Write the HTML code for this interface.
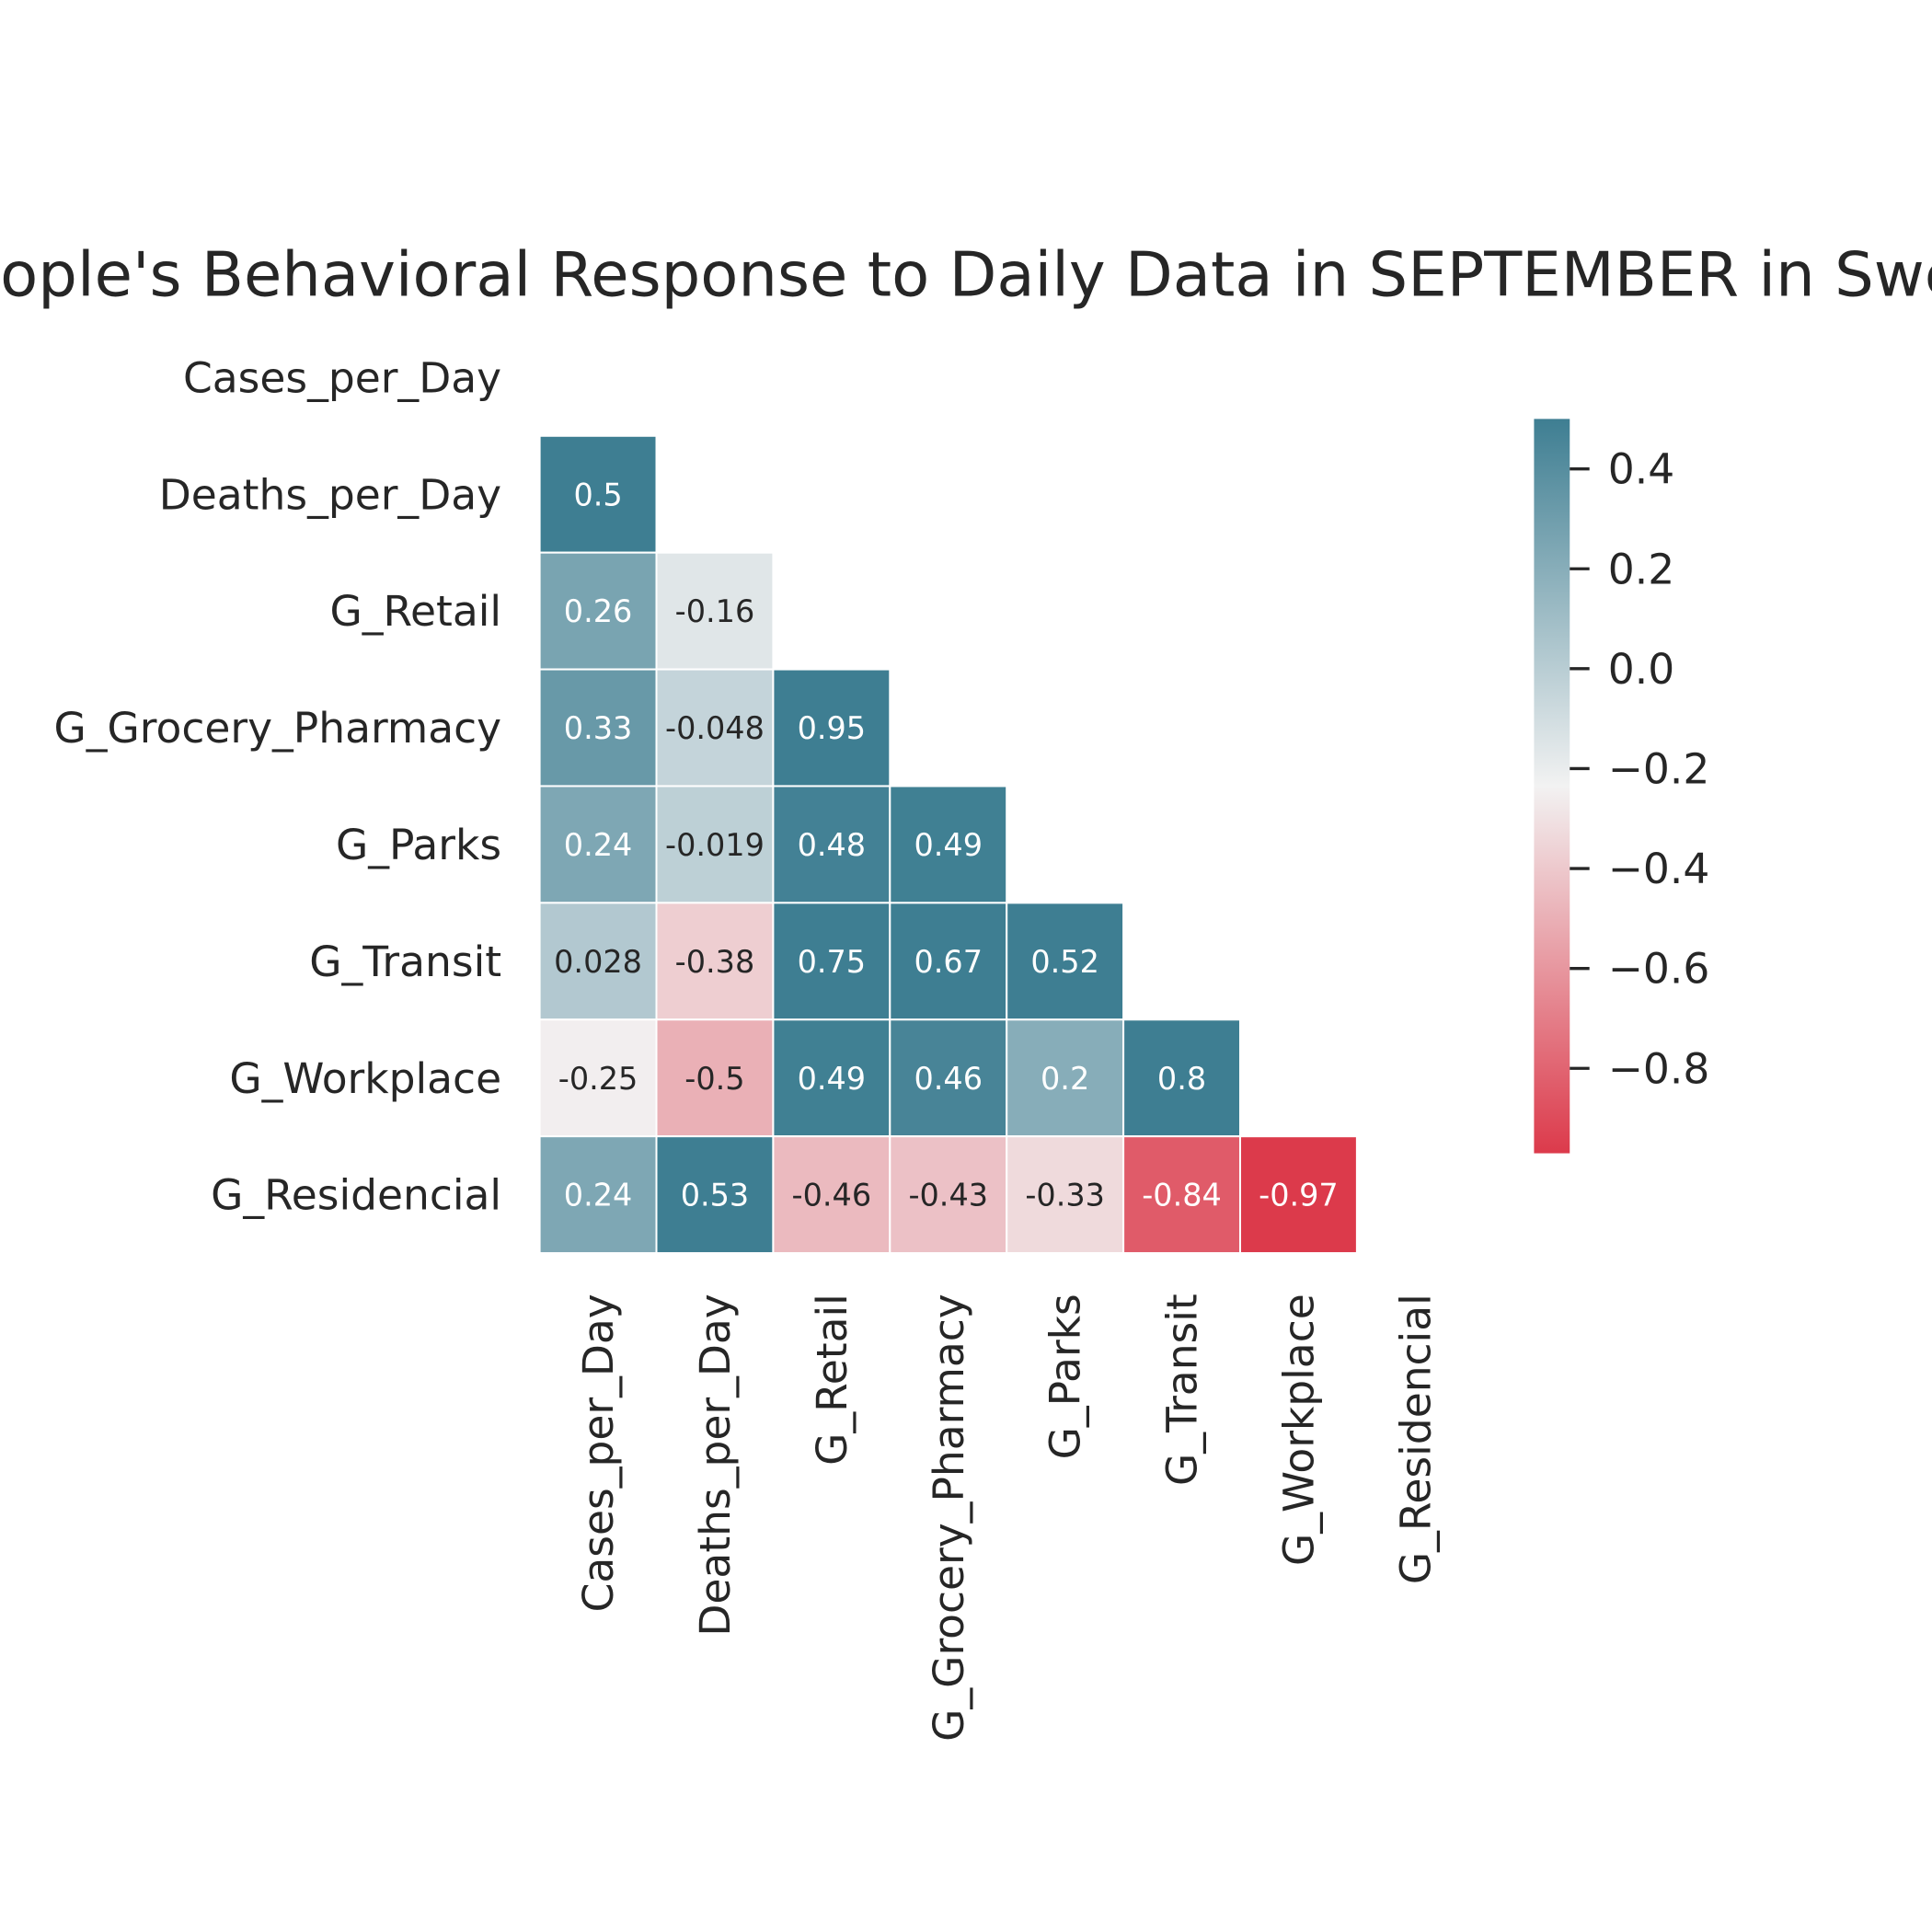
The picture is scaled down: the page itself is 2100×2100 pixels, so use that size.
<!DOCTYPE html>
<html><head><meta charset="utf-8"><style>
html,body{margin:0;padding:0;background:#fff;}
svg{display:block;font-family:"DejaVu Sans","Liberation Sans",sans-serif;}
</style></head><body>
<svg id="chart" width="2100" height="2100" viewBox="0 0 1568 1568" xmlns="http://www.w3.org/2000/svg">
<defs>
<linearGradient id="cbgrad" x1="0" y1="1" x2="0" y2="0">
<stop offset="0" stop-color="#dc3a4b"/>
<stop offset="0.5" stop-color="#f2f2f2"/>
<stop offset="1" stop-color="#3e7e92"/>
</linearGradient>
</defs>
<text x="814" y="240" font-size="50.2" fill="#262626" text-anchor="middle">People's Behavioral Response to Daily Data in SEPTEMBER in Sweden</text>
<g id="cells"></g>
<g id="ylabels"></g>
<g id="xlabels"></g>
<g id="colorbar">
<rect x="1245" y="340" width="29" height="596" fill="url(#cbgrad)"/>
</g>
</svg>
<script>
const labels = ["Cases_per_Day","Deaths_per_Day","G_Retail","G_Grocery_Pharmacy","G_Parks","G_Transit","G_Workplace","G_Residencial"];
const rowDeaths = [0.5];
const rowRetail = [0.26,-0.16];
const rowGrocery = [0.33,-0.048,0.95];
const rowParks = [0.24,-0.019,0.48,0.49];
const rowTransit = [0.028,-0.38,0.75,0.67,0.52];
const rowWorkplace = [-0.25,-0.5,0.49,0.46,0.2,0.8];
const rowResidencial = [0.24,0.53,-0.46,-0.43,-0.33,-0.84,-0.97];
const rows = [[],rowDeaths,rowRetail,rowGrocery,rowParks,rowTransit,rowWorkplace,rowResidencial];
const cbTicks = [0.4,0.2,0.0,-0.2,-0.4,-0.6,-0.8];
const vmin = -0.97, vmax = 0.5;

const NS = "http://www.w3.org/2000/svg";
const gx0 = 438, gy0 = 259, cs = 94.75;
const xPos = i => gx0 + i*cs;
const yPos = i => gy0 + i*cs;
const lo=[220,58,75], mid=[242,242,242], hi=[62,126,146];
function color(v){
  let t=(v-vmin)/(vmax-vmin); t=Math.max(0,Math.min(1,t));
  let a,b,u; if(t<0.5){a=lo;b=mid;u=t/0.5;}else{a=mid;b=hi;u=(t-0.5)/0.5;}
  return a.map((c,k)=>Math.round(c+(b[k]-c)*u));
}
function lum(c){const f=x=>{x/=255;return x<=0.03928?x/12.92:Math.pow((x+0.055)/1.055,2.4);};return 0.2126*f(c[0])+0.7152*f(c[1])+0.0722*f(c[2]);}
const cells=document.getElementById('cells');
rows.forEach((r,i)=>{r.forEach((v,j)=>{
  const c=color(v);
  const rect=document.createElementNS(NS,'rect');
  rect.setAttribute('x',xPos(j));rect.setAttribute('y',yPos(i));
  rect.setAttribute('width',cs);rect.setAttribute('height',cs);
  rect.setAttribute('fill',`rgb(${c.join(',')})`);
  rect.setAttribute('stroke','#fff');rect.setAttribute('stroke-width','1.5');
  
  
  cells.appendChild(rect);
  const t=document.createElementNS(NS,'text');
  t.setAttribute('x',xPos(j)+cs/2);t.setAttribute('y',yPos(i)+cs/2+9);
  t.setAttribute('text-anchor','middle');t.setAttribute('font-size','25');
  t.setAttribute('fill',lum(c)>0.408?'#262626':'#ffffff');
  t.textContent=String(v);
  
  
  cells.appendChild(t);
});});
const yl=document.getElementById('ylabels');
labels.forEach((l,i)=>{
  const t=document.createElementNS(NS,'text');
  t.setAttribute('x',407);t.setAttribute('y',yPos(i)+cs/2+12);
  t.setAttribute('text-anchor','end');t.setAttribute('font-size','34');t.setAttribute('fill','#262626');
  t.textContent=l;
  
  
  yl.appendChild(t);
});
const xl=document.getElementById('xlabels');
labels.forEach((l,i)=>{
  const t=document.createElementNS(NS,'text');
  const cx=xPos(i)+cs/2+12, ty=1050;
  t.setAttribute('x',cx);t.setAttribute('y',ty);
  t.setAttribute('transform',`rotate(-90 ${cx} ${ty})`);
  t.setAttribute('text-anchor','end');t.setAttribute('font-size','34');t.setAttribute('fill','#262626');
  t.textContent=l;
  
  
  xl.appendChild(t);
});
const cb=document.getElementById('colorbar');
const cbY = v => 340 + (vmax-v)/(vmax-vmin)*596;
cbTicks.forEach(v=>{
  const y=cbY(v);
  const ln=document.createElementNS(NS,'line');
  ln.setAttribute('x1',1274);ln.setAttribute('x2',1290);ln.setAttribute('y1',y);ln.setAttribute('y2',y);
  ln.setAttribute('stroke','#262626');ln.setAttribute('stroke-width','2.5');
  
  
  cb.appendChild(ln);
  const t=document.createElementNS(NS,'text');
  t.setAttribute('x',1305);t.setAttribute('y',y+12);t.setAttribute('font-size','34');t.setAttribute('fill','#262626');
  t.textContent=(v<0?'\u2212':'')+Math.abs(v).toFixed(1);
  
  
  cb.appendChild(t);
});
</script>
</body></html>
